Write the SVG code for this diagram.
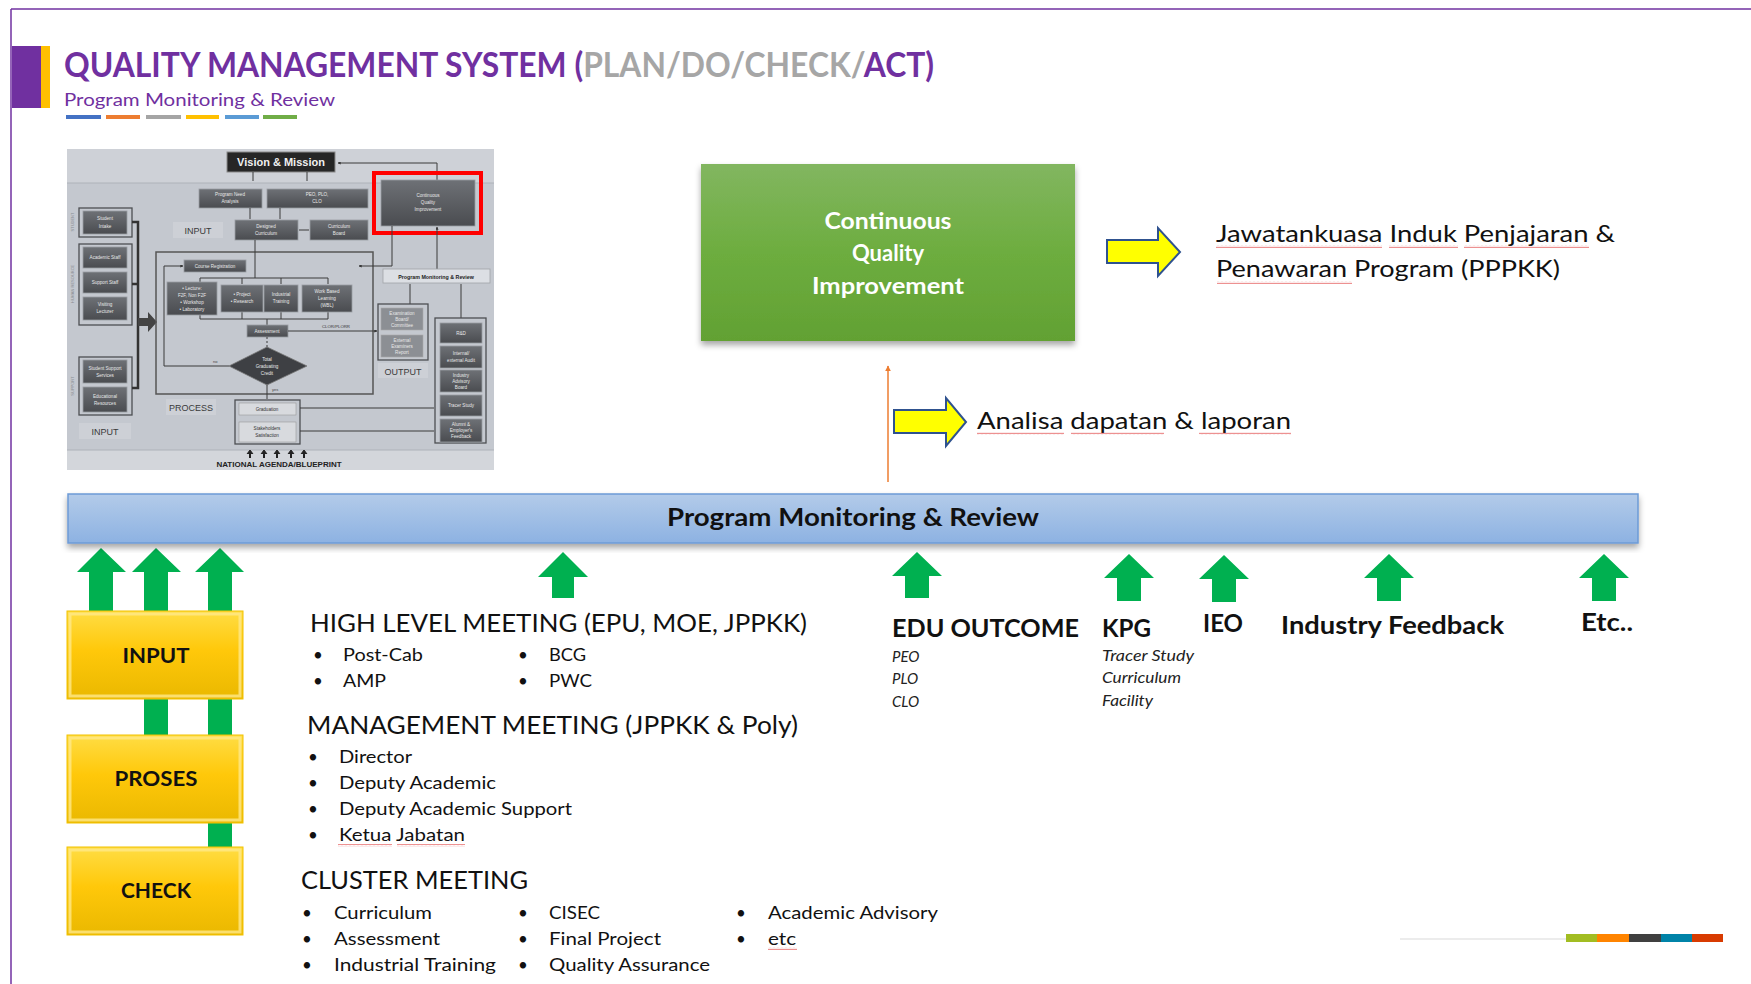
<svg xmlns="http://www.w3.org/2000/svg" width="1751" height="984" viewBox="0 0 1751 984">
<defs>
<linearGradient id="gGreen" x1="0" y1="0" x2="0" y2="1"><stop offset="0" stop-color="#82b660"/><stop offset="0.5" stop-color="#6dad3f"/><stop offset="1" stop-color="#62a133"/></linearGradient>
<linearGradient id="gBar" x1="0" y1="0" x2="0" y2="1"><stop offset="0" stop-color="#b3cbe9"/><stop offset="1" stop-color="#8db2e2"/></linearGradient>
<linearGradient id="gGold" x1="0" y1="0" x2="0" y2="1"><stop offset="0" stop-color="#ffdd44"/><stop offset="0.45" stop-color="#ffc80a"/><stop offset="1" stop-color="#eab800"/></linearGradient>
<linearGradient id="gTb" x1="0" y1="0" x2="0" y2="1"><stop offset="0" stop-color="#6e7176"/><stop offset="1" stop-color="#4a4c50"/></linearGradient>
<filter id="shadow" x="-5%" y="-10%" width="110%" height="130%"><feDropShadow dx="0" dy="4" stdDeviation="3" flood-color="#000" flood-opacity="0.35"/></filter>
<pattern id="squig" width="4" height="3" patternUnits="userSpaceOnUse"><path d="M0,2.2 L1,0.8 L2,2.2 L3,0.8 L4,2.2" fill="none" stroke="#e04545" stroke-width="0.6"/></pattern>
<marker id="mOrange" viewBox="0 0 10 10" refX="9" refY="5" markerWidth="4" markerHeight="5" orient="auto"><path d="M0,0 L10,5 L0,10 z" fill="#ed7d31"/></marker>
<marker id="mDark" viewBox="0 0 10 10" refX="9" refY="5" markerWidth="3" markerHeight="3" orient="auto"><path d="M0,0 L10,5 L0,10 z" fill="#333"/></marker>
</defs>
<style>
.f{font-family:Lato,"Liberation Sans",sans-serif;}
.b{font-weight:bold;}
.hd{font-family:Lato,"Liberation Sans",sans-serif;font-size:25px;fill:#111;}
.it{font-family:Lato,"Liberation Sans",sans-serif;font-size:17px;fill:#111;}
.sm{font-family:Lato,"Liberation Sans",sans-serif;font-size:15px;font-style:italic;fill:#222;}
.grn{fill:#00b050;}
.yarr{fill:#ffff00;stroke:#2f528f;stroke-width:2;}
.gold{fill:url(#gGold);stroke:#f2c200;stroke-width:1;}
.bev{fill:none;stroke:#ffe98a;stroke-width:3;opacity:0.8;}
.lbl{font-family:Lato,"Liberation Sans",sans-serif;font-size:21px;font-weight:bold;fill:#111;text-anchor:middle;}
.tbx{fill:url(#gTb);stroke:#9a9da3;stroke-width:0.8;}
.tgrp{fill:none;stroke:#4d4f53;stroke-width:1.3;}
.tt{font-family:"Liberation Sans",sans-serif;font-size:4.6px;fill:#e8e8e8;text-anchor:middle;}
.tl{fill:#cdd0d6;}
.tlt{font-family:"Liberation Sans",sans-serif;font-size:9px;fill:#3a3a3a;text-anchor:middle;}
.tln{fill:none;stroke:#3a3a3a;stroke-width:1;}
.sq{fill:url(#squig);}
</style>

<rect width="1751" height="984" fill="#ffffff"/>

<g id="frame">
<line x1="11" y1="9" x2="1751" y2="9" stroke="#7030a0" stroke-width="1.5"/>
<line x1="11" y1="9" x2="11" y2="984" stroke="#7030a0" stroke-width="1.5"/>
<rect x="12" y="46" width="29" height="62" fill="#7030a0"/>
<rect x="41" y="46" width="9" height="62" fill="#ffc000"/>
</g>

<g id="title">
<text class="f b" x="64" y="77" font-size="35" fill="#7030a0" textLength="870" lengthAdjust="spacingAndGlyphs">QUALITY MANAGEMENT SYSTEM (<tspan fill="#a6a6a6">PLAN/DO/CHECK/</tspan>ACT)</text>
<text class="f" x="64" y="106" font-size="18" fill="#7030a0" textLength="271" lengthAdjust="spacingAndGlyphs">Program Monitoring &amp; Review</text>
<rect x="66" y="115" width="35" height="4" fill="#4472c4"/>
<rect x="106" y="115" width="34" height="4" fill="#ed7d31"/>
<rect x="146" y="115" width="35" height="4" fill="#a5a5a5"/>
<rect x="186" y="115" width="33" height="4" fill="#ffc000"/>
<rect x="225" y="115" width="34" height="4" fill="#5b9bd5"/>
<rect x="263" y="115" width="34" height="4" fill="#70ad47"/>
</g>

<g id="thumbnail">
<rect x="67" y="149" width="427" height="321" fill="#c4c8cf"/>
<rect x="67" y="149" width="427" height="34" fill="#ced1d7"/>
<line x1="67" y1="183" x2="494" y2="183" stroke="#aeb2b9" stroke-width="1"/>
<rect x="67" y="450" width="427" height="20" fill="#d3d6db"/>
<line x1="67" y1="450" x2="494" y2="450" stroke="#aeb2b9" stroke-width="1"/>
<rect x="227" y="152" width="108" height="20" fill="#262626" stroke="#8a8a8a" stroke-width="1"/>
<text x="281" y="166" font-family="'Liberation Sans',sans-serif" font-size="11" font-weight="bold" fill="#f0f0f0" text-anchor="middle">Vision &amp; Mission</text>
<path class="tln" d="M253,172 V181 M307,172 V181" stroke-width="2"/>
<path class="tln" d="M437,180 V163 H338" marker-end="url(#mDark)"/>
<rect class="tbx" x="381" y="180" width="94" height="46"/>
<text class="tt" x="428" y="197">Continuous</text><text class="tt" x="428" y="204">Quality</text><text class="tt" x="428" y="211">Improvement</text>
<rect x="374" y="173" width="107" height="60" fill="none" stroke="#ff0000" stroke-width="4"/>
<rect class="tbx" x="199" y="189" width="63" height="19"/>
<text class="tt" x="230" y="196">Program Need</text><text class="tt" x="230" y="203">Analysis</text>
<rect class="tbx" x="267" y="189" width="101" height="19"/>
<text class="tt" x="317" y="196">PEO, PLO,</text><text class="tt" x="317" y="203">CLO</text>
<path class="tln" d="M250,208 V219 M280,208 V219 M299,230 H309"/>
<rect class="tbx" x="235" y="220" width="63" height="20"/>
<text class="tt" x="266" y="228">Designed</text><text class="tt" x="266" y="235">Curriculum</text>
<rect class="tbx" x="310" y="220" width="58" height="20"/>
<text class="tt" x="339" y="228">Curriculum</text><text class="tt" x="339" y="235">Board</text>
<rect class="tl" x="173" y="222" width="50" height="16"/>
<text class="tlt" x="198" y="234">INPUT</text>
<text x="74" y="222" transform="rotate(-90 74 222)" font-family="'Liberation Sans',sans-serif" font-size="4" fill="#8a8d92" text-anchor="middle">STUDENT</text>
<text x="74" y="284" transform="rotate(-90 74 284)" font-family="'Liberation Sans',sans-serif" font-size="4" fill="#8a8d92" text-anchor="middle">HUMAN RESOURCE</text>
<text x="74" y="386" transform="rotate(-90 74 386)" font-family="'Liberation Sans',sans-serif" font-size="4" fill="#8a8d92" text-anchor="middle">SUPPORT</text>
<rect class="tgrp" x="79" y="208" width="53" height="29"/>
<rect class="tbx" x="83" y="211" width="44" height="23"/>
<text class="tt" x="105" y="220">Student</text><text class="tt" x="105" y="228">Intake</text>
<rect class="tgrp" x="79" y="244" width="53" height="81"/>
<rect class="tbx" x="83" y="247" width="44" height="21"/>
<text class="tt" x="105" y="259">Academic Staff</text>
<rect class="tbx" x="83" y="272" width="44" height="21"/>
<text class="tt" x="105" y="284">Support Staff</text>
<rect class="tbx" x="83" y="297" width="44" height="23"/>
<text class="tt" x="105" y="306">Visiting</text><text class="tt" x="105" y="313">Lecturer</text>
<rect class="tgrp" x="79" y="357" width="53" height="58"/>
<rect class="tbx" x="83" y="360" width="44" height="23"/>
<text class="tt" x="105" y="370">Student Support</text><text class="tt" x="105" y="377">Services</text>
<rect class="tbx" x="83" y="387" width="44" height="25"/>
<text class="tt" x="105" y="398">Educational</text><text class="tt" x="105" y="405">Resources</text>
<rect class="tl" x="79" y="423" width="52" height="16"/>
<text class="tlt" x="105" y="435">INPUT</text>
<path d="M132,222 H138 V388 H132 M132,284 H138" fill="none" stroke="#333" stroke-width="2.5"/>
<polygon points="138,318 148,318 148,312 157,322 148,332 148,326 138,326" fill="#444"/>
<rect x="156" y="252" width="217" height="142" fill="none" stroke="#555" stroke-width="1.5"/>
<rect class="tbx" x="184" y="260" width="62" height="12"/>
<text class="tt" x="215" y="268">Course Registration</text>
<path class="tln" d="M255,240 V278 M200,278 H328 M200,278 V284 M242,278 V284 M281,278 V284 M328,278 V284 M200,319 H328 M200,315 V319 M242,312 V319 M281,312 V319 M328,312 V319 M267,319 V325"/>
<rect class="tbx" x="167" y="282" width="50" height="33"/>
<text class="tt" x="192" y="290">• Lecture:</text><text class="tt" x="192" y="297">F2F, Non F2F</text><text class="tt" x="192" y="304">• Workshop</text><text class="tt" x="192" y="311">• Laboratory</text>
<rect class="tbx" x="221" y="285" width="42" height="27"/>
<text class="tt" x="242" y="296">• Project</text><text class="tt" x="242" y="303">• Research</text>
<rect class="tbx" x="264" y="285" width="34" height="27"/>
<text class="tt" x="281" y="296">Industrial</text><text class="tt" x="281" y="303">Training</text>
<rect class="tbx" x="302" y="285" width="50" height="27"/>
<text class="tt" x="327" y="293">Work Based</text><text class="tt" x="327" y="300">Learning</text><text class="tt" x="327" y="307">(WBL)</text>
<rect class="tbx" x="247" y="325" width="41" height="12"/>
<text class="tt" x="267" y="333">Assessment</text>
<path class="tln" d="M267,337 V347" stroke-dasharray="2,2"/>
<polygon points="267,347 307,366 267,385 229,366" fill="#3e4044" stroke="#777" stroke-width="0.8"/>
<text class="tt" x="267" y="361">Total</text><text class="tt" x="267" y="368">Graduating</text><text class="tt" x="267" y="375">Credit</text>
<path class="tln" d="M229,366 H164 V266 H183" marker-end="url(#mDark)"/>
<text x="213" y="363" font-family="'Liberation Sans',sans-serif" font-size="4" fill="#444">no</text>
<path class="tln" d="M267,385 V399"/>
<text x="272" y="391" font-family="'Liberation Sans',sans-serif" font-size="4" fill="#444">yes</text>
<path class="tln" d="M288,331 H377" marker-end="url(#mDark)"/>
<text x="322" y="328" font-family="'Liberation Sans',sans-serif" font-size="4.3" fill="#333">CLOR/PLORR</text>
<path class="tln" d="M392,226 V266 H359" marker-end="url(#mDark)"/>
<path class="tln" d="M437,269 V227" marker-end="url(#mDark)"/>
<rect x="383" y="269" width="107" height="14" fill="#dcdfe4" stroke="#a0a3a8" stroke-width="0.8"/>
<text x="436" y="279" font-family="'Liberation Sans',sans-serif" font-size="5.3" font-weight="bold" fill="#222" text-anchor="middle">Program Monitoring &amp; Review</text>
<path class="tln" d="M410,304 V284 M461,318 V284"/>
<rect class="tgrp" x="378" y="304" width="50" height="56"/>
<rect x="381" y="308" width="42" height="22" fill="#8c8f94" stroke="#aaa" stroke-width="0.6"/>
<text class="tt" x="402" y="315">Examination</text><text class="tt" x="402" y="321">Board/</text><text class="tt" x="402" y="327">Committee</text>
<rect x="381" y="335" width="42" height="22" fill="#8c8f94" stroke="#aaa" stroke-width="0.6"/>
<text class="tt" x="402" y="342">External</text><text class="tt" x="402" y="348">Examiners</text><text class="tt" x="402" y="354">Report</text>
<rect class="tl" x="378" y="363" width="50" height="15"/>
<text class="tlt" x="403" y="375">OUTPUT</text>
<rect class="tgrp" x="435" y="318" width="51" height="125"/>
<rect class="tbx" x="440" y="323" width="42" height="20"/>
<text class="tt" x="461" y="335">R&amp;D</text>
<rect class="tbx" x="440" y="346" width="42" height="22"/>
<text class="tt" x="461" y="355">Internal/</text><text class="tt" x="461" y="362">external Audit</text>
<rect class="tbx" x="440" y="370" width="42" height="22"/>
<text class="tt" x="461" y="377">Industry</text><text class="tt" x="461" y="383">Advisory</text><text class="tt" x="461" y="389">Board</text>
<rect class="tbx" x="440" y="395" width="42" height="21"/>
<text class="tt" x="461" y="407">Tracer Study</text>
<rect class="tbx" x="440" y="419" width="42" height="23"/>
<text class="tt" x="461" y="426">Alumni &amp;</text><text class="tt" x="461" y="432">Employer's</text><text class="tt" x="461" y="438">Feedback</text>
<rect class="tgrp" x="235" y="400" width="65" height="44"/>
<rect x="239" y="403" width="57" height="12" fill="#d8dade" stroke="#999" stroke-width="0.6"/>
<text x="267" y="411" font-family="'Liberation Sans',sans-serif" font-size="4.6" fill="#333" text-anchor="middle">Graduation</text>
<rect x="239" y="422" width="57" height="20" fill="#d8dade" stroke="#999" stroke-width="0.6"/>
<text x="267" y="430" font-family="'Liberation Sans',sans-serif" font-size="4.6" fill="#333" text-anchor="middle">Stakeholders</text>
<text x="267" y="437" font-family="'Liberation Sans',sans-serif" font-size="4.6" fill="#333" text-anchor="middle">Satisfaction</text>
<path class="tln" d="M300,408 H434 M300,431 H434"/>
<rect class="tl" x="166" y="399" width="50" height="16"/>
<text class="tlt" x="191" y="411">PROCESS</text>
<path d="M250,458 V452 M264,458 V452 M277,458 V452 M291,458 V452 M304,458 V452" stroke="#222" stroke-width="2"/>
<path d="M247,454 L250,450 L253,454 M261,454 L264,450 L267,454 M274,454 L277,450 L280,454 M288,454 L291,450 L294,454 M301,454 L304,450 L307,454" fill="#222" stroke="#222" stroke-width="1"/>
<text x="279" y="467" font-family="'Liberation Sans',sans-serif" font-size="8" font-weight="bold" fill="#222" text-anchor="middle">NATIONAL AGENDA/BLUEPRINT</text>
</g>

<g id="connectors">
<line x1="888" y1="482" x2="888" y2="366" stroke="#ed7d31" stroke-width="1.5" marker-end="url(#mOrange)"/>
<polygon class="yarr" points="1107,240 1158,240 1158,228 1180,252 1158,276 1158,263 1107,263"/>
<polygon class="yarr" points="894,410 946,410 946,398 966,422 946,446 946,433 894,433"/>
<polygon class="grn" points="101,548 126,572 113,572 113,615 89,615 89,572 77,572"/>
<polygon class="grn" points="156,548 181,572 168,572 168,740 144,740 144,572 132,572"/>
<polygon class="grn" points="220,548 244,572 232,572 232,850 208,850 208,572 195,572"/>
<polygon class="grn" points="563,552 588,577 574,577 574,598 552,598 552,577 538,577"/>
<polygon class="grn" points="917,552 942,576 929,576 929,598 905,598 905,576 892,576"/>
<polygon class="grn" points="1129,554 1154,578 1141,578 1141,601 1117,601 1117,578 1104,578"/>
<polygon class="grn" points="1224,555 1249,579 1236,579 1236,602 1212,602 1212,579 1199,579"/>
<polygon class="grn" points="1389,554 1414,578 1401,578 1401,601 1377,601 1377,578 1364,578"/>
<polygon class="grn" points="1604,554 1629,578 1616,578 1616,601 1592,601 1592,578 1579,578"/>
</g>

<g id="cqi">
<rect x="701" y="164" width="374" height="177" fill="url(#gGreen)" filter="url(#shadow)"/>
<text class="f b" x="888" y="229" font-size="23" fill="#fff" text-anchor="middle" textLength="127" lengthAdjust="spacingAndGlyphs">Continuous</text>
<text class="f b" x="888" y="261" font-size="23" fill="#fff" text-anchor="middle" textLength="72" lengthAdjust="spacingAndGlyphs">Quality</text>
<text class="f b" x="888" y="294" font-size="23" fill="#fff" text-anchor="middle" textLength="152" lengthAdjust="spacingAndGlyphs">Improvement</text>
</g>

<g id="pppkk">
<text class="f" x="1216" y="242" font-size="24" fill="#111" textLength="399" lengthAdjust="spacingAndGlyphs">Jawatankuasa Induk Penjajaran &amp;</text>
<text class="f" x="1216" y="277" font-size="24" fill="#111" textLength="344" lengthAdjust="spacingAndGlyphs">Penawaran Program (PPPKK)</text>
<rect class="sq" x="1216" y="245" width="166" height="3"/>
<rect class="sq" x="1389" y="245" width="69" height="3"/>
<rect class="sq" x="1464" y="245" width="125" height="3"/>
<rect class="sq" x="1217" y="281" width="135" height="3"/>
</g>

<g id="analisa">
<text class="f" x="977" y="429" font-size="24" fill="#111" textLength="314" lengthAdjust="spacingAndGlyphs">Analisa dapatan &amp; laporan</text>
<rect class="sq" x="977" y="432" width="87" height="3"/>
<rect class="sq" x="1071" y="432" width="93" height="3"/>
<rect class="sq" x="1199" y="432" width="92" height="3"/>
</g>

<g id="pmr-bar">
<rect x="68" y="494" width="1570" height="49" fill="url(#gBar)" stroke="#6d9bd6" stroke-width="1.5" filter="url(#shadow)"/>
<text class="f b" x="667" y="526" font-size="25" fill="#111" textLength="372" lengthAdjust="spacingAndGlyphs">Program Monitoring &amp; Review</text>
</g>

<g id="input">
<rect class="gold" x="67" y="611" width="176" height="88"/>
<rect class="bev" x="70" y="614" width="170" height="82"/>
<text class="lbl" x="156" y="663" textLength="67" lengthAdjust="spacingAndGlyphs">INPUT</text>
</g>
<g id="proses">
<rect class="gold" x="67" y="735" width="176" height="88"/>
<rect class="bev" x="70" y="738" width="170" height="82"/>
<text class="lbl" x="156" y="786" textLength="83" lengthAdjust="spacingAndGlyphs">PROSES</text>
</g>
<g id="check">
<rect class="gold" x="67" y="847" width="176" height="88"/>
<rect class="bev" x="70" y="850" width="170" height="82"/>
<text class="lbl" x="156" y="898" textLength="70" lengthAdjust="spacingAndGlyphs">CHECK</text>
</g>

<g id="high-level">
<text class="hd" x="310" y="632" textLength="497" lengthAdjust="spacingAndGlyphs">HIGH LEVEL MEETING (EPU, MOE, JPPKK)</text>
<text class="it" x="313" y="661">•</text><text class="it" x="343" y="661" textLength="80" lengthAdjust="spacingAndGlyphs">Post-Cab</text>
<text class="it" x="313" y="687">•</text><text class="it" x="343" y="687" textLength="43" lengthAdjust="spacingAndGlyphs">AMP</text>
<text class="it" x="518" y="661">•</text><text class="it" x="549" y="661" textLength="37" lengthAdjust="spacingAndGlyphs">BCG</text>
<text class="it" x="518" y="687">•</text><text class="it" x="549" y="687" textLength="43" lengthAdjust="spacingAndGlyphs">PWC</text>
</g>

<g id="management">
<text class="hd" x="307" y="734" textLength="491" lengthAdjust="spacingAndGlyphs">MANAGEMENT MEETING (JPPKK &amp; Poly)</text>
<text class="it" x="308" y="763">•</text><text class="it" x="339" y="763" textLength="73" lengthAdjust="spacingAndGlyphs">Director</text>
<text class="it" x="308" y="789">•</text><text class="it" x="339" y="789" textLength="157" lengthAdjust="spacingAndGlyphs">Deputy Academic</text>
<text class="it" x="308" y="815">•</text><text class="it" x="339" y="815" textLength="233" lengthAdjust="spacingAndGlyphs">Deputy Academic Support</text>
<text class="it" x="308" y="841">•</text><text class="it" x="339" y="841" textLength="126" lengthAdjust="spacingAndGlyphs">Ketua Jabatan</text>
<rect class="sq" x="338" y="844" width="54" height="3"/>
<rect class="sq" x="397" y="844" width="68" height="3"/>
</g>

<g id="cluster">
<text class="hd" x="301" y="889" textLength="227" lengthAdjust="spacingAndGlyphs">CLUSTER MEETING</text>
<text class="it" x="302" y="919">•</text><text class="it" x="334" y="919" textLength="98" lengthAdjust="spacingAndGlyphs">Curriculum</text>
<text class="it" x="302" y="945">•</text><text class="it" x="334" y="945" textLength="106" lengthAdjust="spacingAndGlyphs">Assessment</text>
<text class="it" x="302" y="971">•</text><text class="it" x="334" y="971" textLength="162" lengthAdjust="spacingAndGlyphs">Industrial Training</text>
<text class="it" x="518" y="919">•</text><text class="it" x="549" y="919" textLength="51" lengthAdjust="spacingAndGlyphs">CISEC</text>
<text class="it" x="518" y="945">•</text><text class="it" x="549" y="945" textLength="112" lengthAdjust="spacingAndGlyphs">Final Project</text>
<text class="it" x="518" y="971">•</text><text class="it" x="549" y="971" textLength="161" lengthAdjust="spacingAndGlyphs">Quality Assurance</text>
<text class="it" x="736" y="919">•</text><text class="it" x="768" y="919" textLength="170" lengthAdjust="spacingAndGlyphs">Academic Advisory</text>
<text class="it" x="736" y="945">•</text><text class="it" x="768" y="945" textLength="28" lengthAdjust="spacingAndGlyphs">etc</text>
<rect class="sq" x="768" y="947" width="29" height="3"/>
</g>

<g id="edu-outcome">
<text class="hd b" x="892" y="637" textLength="187" lengthAdjust="spacingAndGlyphs">EDU OUTCOME</text>
<text class="sm" x="892" y="662">PEO</text>
<text class="sm" x="892" y="684">PLO</text>
<text class="sm" x="892" y="707">CLO</text>
</g>
<g id="kpg">
<text class="hd b" x="1102" y="637" textLength="49" lengthAdjust="spacingAndGlyphs">KPG</text>
<text class="sm" x="1102" y="661" textLength="92" lengthAdjust="spacingAndGlyphs">Tracer Study</text>
<text class="sm" x="1102" y="683" textLength="79" lengthAdjust="spacingAndGlyphs">Curriculum</text>
<text class="sm" x="1102" y="706" textLength="51" lengthAdjust="spacingAndGlyphs">Facility</text>
</g>
<g id="ieo"><text class="hd b" x="1203" y="632" textLength="40" lengthAdjust="spacingAndGlyphs">IEO</text></g>
<g id="industry"><text class="hd b" x="1281" y="634" textLength="223" lengthAdjust="spacingAndGlyphs">Industry Feedback</text></g>
<g id="etc"><text class="hd b" x="1581" y="631" textLength="52" lengthAdjust="spacingAndGlyphs">Etc..</text></g>

<g id="footer-deco">
<line x1="1400" y1="939" x2="1566" y2="939" stroke="#ececec" stroke-width="2"/>
<rect x="1566" y="934" width="31" height="8" fill="#a2bd22"/>
<rect x="1597" y="934" width="32" height="8" fill="#ff8400"/>
<rect x="1629" y="934" width="32" height="8" fill="#404040"/>
<rect x="1661" y="934" width="31" height="8" fill="#0083a8"/>
<rect x="1692" y="934" width="31" height="8" fill="#d83b01"/>
</g>
</svg>
